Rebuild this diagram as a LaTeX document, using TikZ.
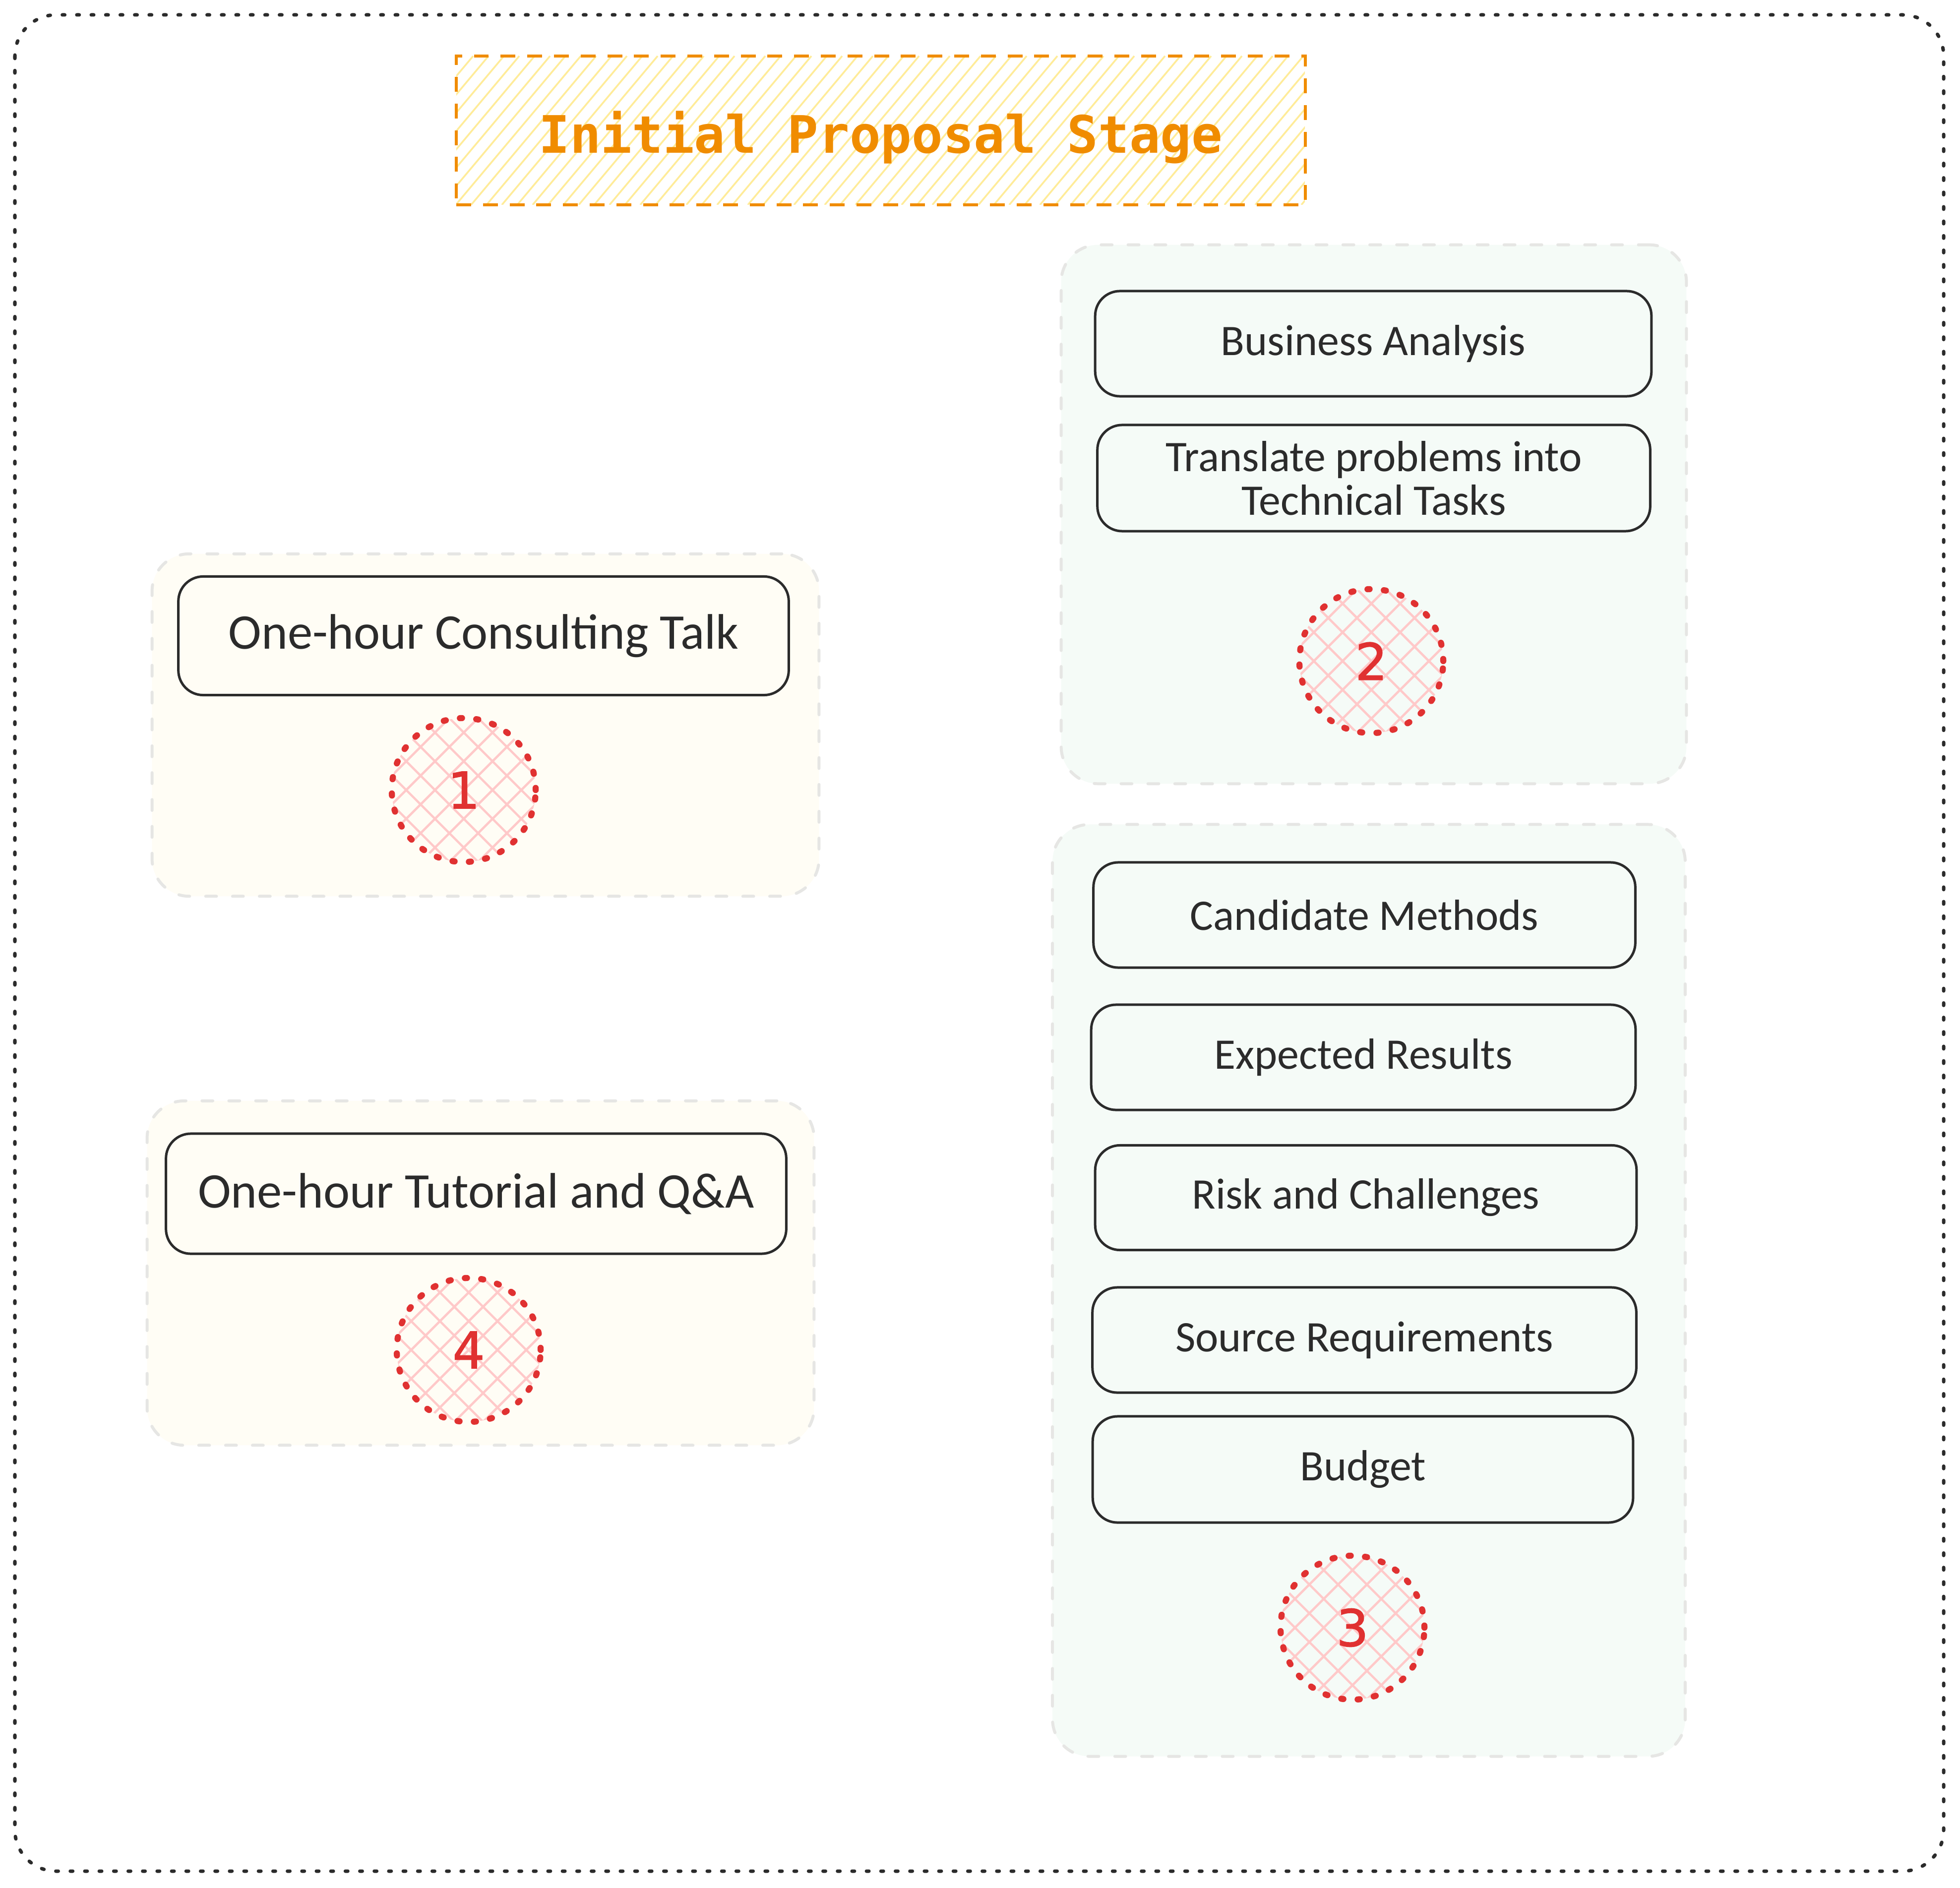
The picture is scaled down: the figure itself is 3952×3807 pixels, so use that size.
\documentclass[tikz,border=0pt]{standalone}
\usepackage{fontspec}
\setmainfont{Carlito}
\newfontfamily\titlefont{DejaVu Sans Mono}
\newfontfamily\numfont{DejaVu Sans}[FakeBold=1.5]
\definecolor{ink}{HTML}{2B2B2B}
\definecolor{orangeT}{HTML}{F08C00}
\definecolor{yellowH}{HTML}{FFEC99}
\definecolor{redN}{HTML}{E03131}
\definecolor{redH}{HTML}{FFC9C9}
\definecolor{grayD}{HTML}{E6E6E4}
\definecolor{creamF}{HTML}{FFFDF5}
\definecolor{greenF}{HTML}{F5FBF7}
\tikzset{
  framebox/.style={draw=ink, line width=2pt, line cap=round, dash pattern=on 1.4pt off 6.9pt, rounded corners=0.83cm},
  groupbox/.style={draw=grayD, line width=1.7pt, line cap=round, dash pattern=on 6.2pt off 9.2pt, rounded corners=0.75cm, inner sep=0pt},
  cream/.style={groupbox, fill=creamF},
  mint/.style={groupbox, fill=greenF},
  itembox/.style={draw=ink, line width=1.42pt, rounded corners=0.5cm, inner sep=0pt, align=center,
     font=\fontsize{25}{25}\selectfont, text=ink},
  bigitem/.style={itembox, font=\fontsize{28.6}{30}\selectfont},
  titlebox/.style={draw=orangeT, line width=1.7pt, dash pattern=on 8.5pt off 6.8pt, inner sep=0pt,
     text height=0.9cm, text depth=0pt,
     font=\titlefont\bfseries\fontsize{29.6}{32}\selectfont, text=orangeT},
  numcircle/.style={circle, draw=redN, line width=3.5pt, line cap=round, dash pattern=on 1.2pt off 8.2pt,
     minimum size=2.9cm, inner sep=0pt, text=redN, font=\numfont\fontsize{29}{30}\selectfont},
  yhatch/.style={solid, yellowH, line width=1pt},
  rhatch/.style={solid, redH, line width=1.3pt}
}
\newcommand{\crosshatch}[1]{%
  \begin{scope}
    \clip (#1) circle (145);
    \foreach \i in {-290,-232,...,290} {
      \draw[rhatch] ($(#1)+(\i-200,-200)$) -- ($(#1)+(\i+200,200)$);
      \draw[rhatch] ($(#1)+(\i-200,200)$) -- ($(#1)+(\i+200,-200)$);}
  \end{scope}}
\usetikzlibrary{calc}
\begin{document}
\begin{tikzpicture}[x=0.01cm,y=-0.01cm]
\useasboundingbox (0,0) rectangle (3952,3807);
\fill[white] (0,0) rectangle (3952,3807);
\draw[framebox] (30,30) rectangle (3919,3773);

% title hatch
\begin{scope}
  \clip (920,113) rectangle (2631,413);
  \foreach \i in {640,671,...,2640} \draw[yhatch] (\i,413) -- (\i+252,113);
\end{scope}
\node[titlebox, minimum width=17.11cm, minimum height=3cm] (title) at (1776,263) {Initial Proposal Stage};

% groups
\node[cream, minimum width=13.44cm, minimum height=6.9cm] (g1) at (979,1462) {};
\node[cream, minimum width=13.44cm, minimum height=6.94cm] (g4) at (969,2567) {};
\node[mint, minimum width=12.6cm, minimum height=10.86cm] (g2) at (2770,1037) {};
\node[mint, minimum width=12.75cm, minimum height=18.78cm] (g3) at (2760,2602) {};

% items
\node[bigitem, minimum width=12.3cm, minimum height=2.39cm] (consult) at (975,1282) {One-hour Consulting Talk};
\node[bigitem, minimum width=12.5cm, minimum height=2.42cm] (tutorial) at (960,2407) {One-hour Tutorial and Q\&A};
\node[itembox, minimum width=11.21cm, minimum height=2.12cm] (business) at (2769,693) {Business Analysis};
\node[itembox, minimum width=11.14cm, minimum height=2.14cm] (translate) at (2770,964) {Translate problems into\\Technical Tasks};
\node[itembox, minimum width=10.92cm, minimum height=2.12cm] (candidate) at (2751,1845) {Candidate Methods};
\node[itembox, minimum width=10.97cm, minimum height=2.12cm] (expected) at (2749,2132) {Expected Results};
\node[itembox, minimum width=10.91cm, minimum height=2.11cm] (risk) at (2754,2415) {Risk and Challenges};
\node[itembox, minimum width=10.96cm, minimum height=2.12cm] (source) at (2751,2702) {Source Requirements};
\node[itembox, minimum width=10.89cm, minimum height=2.14cm] (budget) at (2748,2963) {Budget};

% numbers
\coordinate (c1) at (935,1593);
\coordinate (c4) at (945,2722);
\coordinate (c2) at (2765,1333);
\coordinate (c3) at (2727,3282);
\crosshatch{c1}\crosshatch{c4}\crosshatch{c2}\crosshatch{c3}
\node[numcircle] (n1) at (c1) {1};
\node[numcircle] (n4) at (c4) {4};
\node[numcircle] (n2) at (c2) {2};
\node[numcircle] (n3) at (c3) {3};
\end{tikzpicture}
\end{document}
